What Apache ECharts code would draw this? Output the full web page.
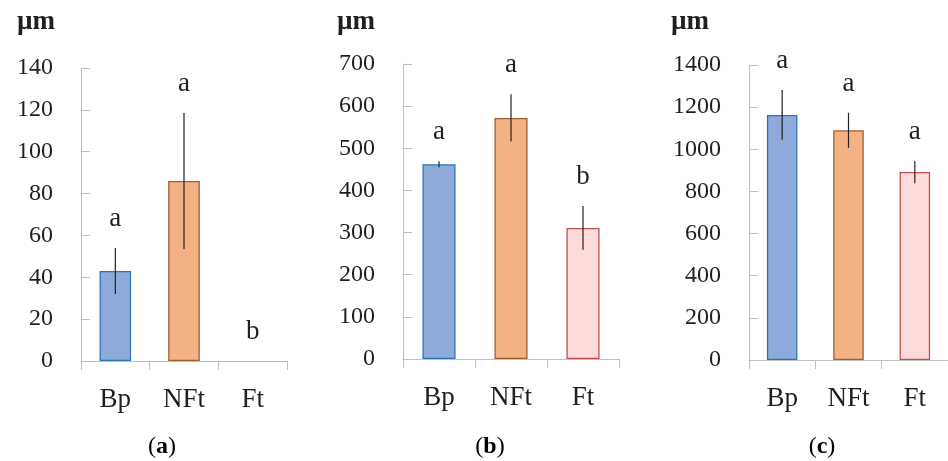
<!DOCTYPE html>
<html>
<head>
<meta charset="utf-8">
<script src="https://cdn.jsdelivr.net/npm/echarts@6/dist/echarts.min.js"></script>
<style>
html,body{margin:0;padding:0;background:#fff;}
#chart{width:948px;height:461px;}
</style>
</head>
<body>
<div id="chart"></div>
<script>
// ---- data ----
var categories = ['Bp', 'NFt', 'Ft'];
var panelLabels = ['a', 'b', 'c'];
var unitLabel = 'µm';

var meansA = [43, 86, 0];
var errorsA = [11, 32.5, 0];
var lettersA = ['a', 'a', 'b'];

var meansB = [462, 572, 311];
var errorsB = [7, 56, 52];
var lettersB = ['a', 'a', 'b'];

var meansC = [1163, 1090, 892];
var errorsC = [118, 83, 53];
var lettersC = ['a', 'a', 'a'];

var yMaxA = 140, yStepA = 20;
var yMaxB = 700, yStepB = 100;
var yMaxC = 1400, yStepC = 200;

// ---- styles ----
var FONT = '"Liberation Serif", "DejaVu Serif", serif';
var fills = ['#8eaadb', '#f4b183', '#ffdada'];
var borders = ['#2e75b6', '#9c5f3a', '#c0504d'];
var axisColor = '#bfbfbf';
var textColor = '#1f1f1f';

var panels = [
  {means: meansA, errors: errorsA, letters: lettersA, max: yMaxA, step: yStepA,
   grid: {left: 81, top: 68, width: 206, height: 293}, unitX: 17, capX: 162},
  {means: meansB, errors: errorsB, letters: lettersB, max: yMaxB, step: yStepB,
   grid: {left: 403, top: 64, width: 216, height: 295}, unitX: 337, capX: 490},
  {means: meansC, errors: errorsC, letters: lettersC, max: yMaxC, step: yStepC,
   grid: {left: 749, top: 65, width: 201, height: 295}, unitX: 671, capX: 822}
];

var grids = [], xAxes = [], yAxes = [], series = [], graphics = [];

panels.forEach(function (p, i) {
  grids.push(Object.assign({containLabel: false}, p.grid));
  xAxes.push({
    type: 'category', gridIndex: i, data: categories,
    boundaryGap: true,
    axisLine: {show: true, lineStyle: {color: axisColor, width: 1}},
    axisTick: {show: true, inside: false, length: 9, lineStyle: {color: axisColor}},
    axisLabel: {color: textColor, fontFamily: FONT, fontSize: 27, lineHeight: 27, margin: 25},
    splitLine: {show: false}
  });
  yAxes.push({
    type: 'value', gridIndex: i, min: 0, max: p.max, interval: p.step,
    axisLine: {show: true, lineStyle: {color: axisColor, width: 1}},
    axisTick: {show: true, inside: true, length: 9, lineStyle: {color: axisColor}},
    axisLabel: {color: textColor, fontFamily: FONT, fontSize: 24, margin: 28,
                formatter: function (v) { return String(v); }},
    splitLine: {show: false}
  });

  series.push({
    type: 'bar', xAxisIndex: i, yAxisIndex: i, barWidth: '46%',
    data: p.means.map(function (v, k) {
      return {
        value: v,
        itemStyle: {color: fills[k], borderColor: borders[k], borderWidth: v === 0 ? 0 : 1.3}
      };
    }),
    silent: true, animation: false
  });

  // error bars
  series.push({
    type: 'custom', xAxisIndex: i, yAxisIndex: i, silent: true, animation: false, z: 5,
    data: p.means.map(function (v, k) { return [k, v - p.errors[k], v + p.errors[k]]; }),
    renderItem: function (params, api) {
      if (api.value(2) === api.value(1)) return null;
      var lo = api.coord([api.value(0), api.value(1)]);
      var hi = api.coord([api.value(0), api.value(2)]);
      return {
        type: 'line',
        shape: {x1: lo[0], y1: lo[1], x2: hi[0], y2: hi[1]},
        style: {stroke: '#222', lineWidth: 1.2}
      };
    }
  });

  // significance letters
  (function (letters) {
    series.push({
      type: 'custom', xAxisIndex: i, yAxisIndex: i, silent: true, animation: false, z: 6,
      data: p.means.map(function (v, k) { return [k, v + p.errors[k]]; }),
      renderItem: function (params, api) {
        var pt = api.coord([api.value(0), api.value(1)]);
        return {
          type: 'text',
          x: pt[0], y: pt[1] - 29,
          style: {
            text: letters[params.dataIndex],
            fill: textColor, font: '27px ' + FONT,
            textAlign: 'center', textVerticalAlign: 'middle'
          }
        };
      }
    });
  })(p.letters);

  graphics.push({
    type: 'text', left: p.unitX, top: 9,
    style: {text: unitLabel, fill: textColor, font: 'bold 27px ' + FONT}
  });
  graphics.push({
    type: 'text', x: p.capX, y: 447,
    style: {
      text: '{p|(}{b|' + panelLabels[i] + '}{p|)}',
      textAlign: 'center', textVerticalAlign: 'middle',
      rich: {
        p: {fontFamily: FONT, fontSize: 24, color: textColor},
        b: {fontFamily: FONT, fontSize: 24, fontWeight: 'bold', color: textColor}
      }
    }
  });
});

var chart = echarts.init(document.getElementById('chart'), null, {renderer: 'canvas'});
chart.setOption({
  backgroundColor: '#ffffff',
  animation: false,
  grid: grids,
  xAxis: xAxes,
  yAxis: yAxes,
  series: series,
  graphic: graphics
});
</script>
</body>
</html>
